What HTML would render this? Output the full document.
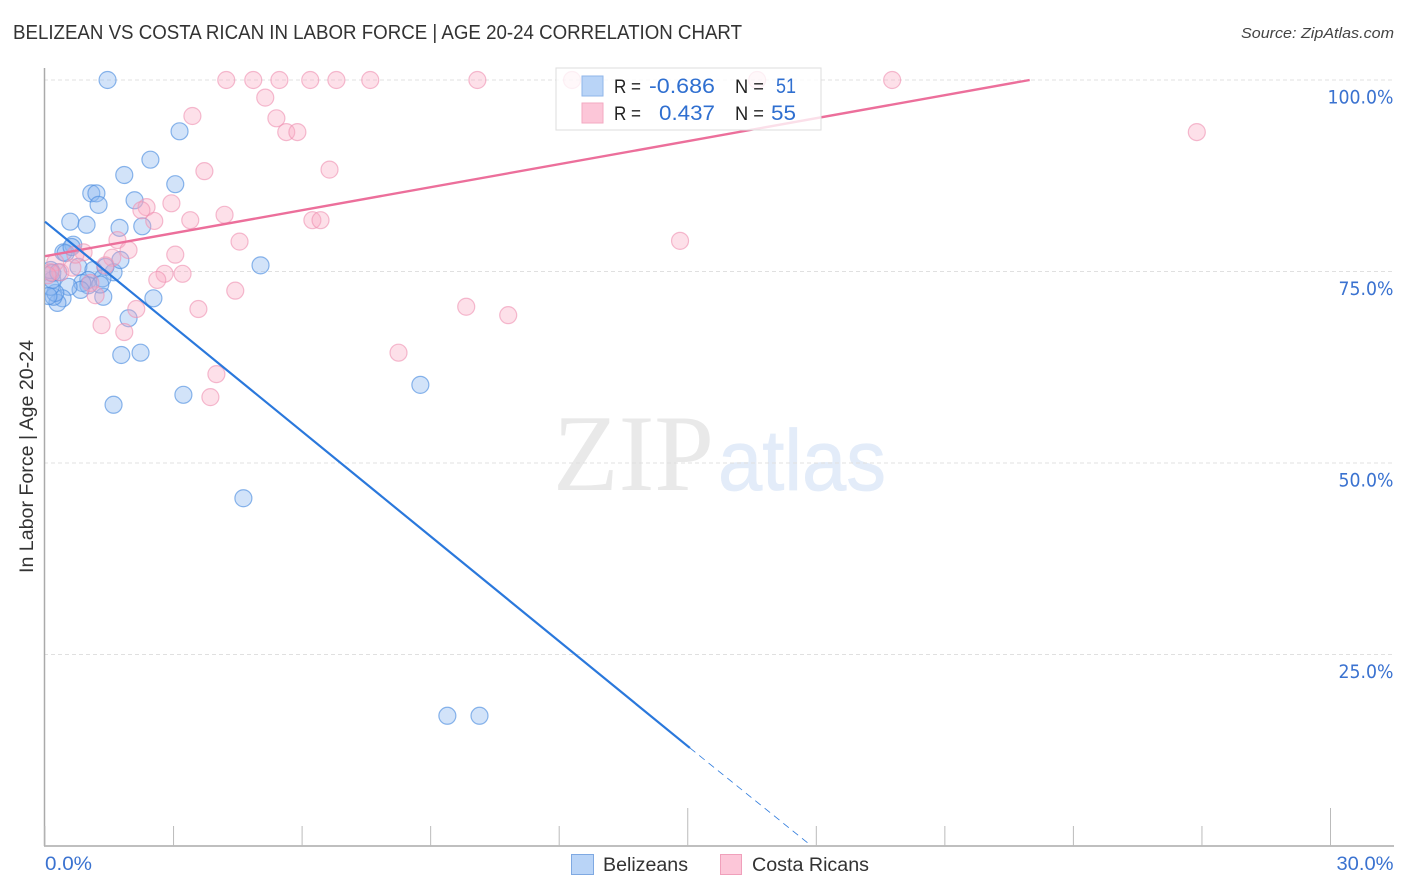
<!DOCTYPE html>
<html>
<head>
<meta charset="utf-8">
<title>Belizean vs Costa Rican In Labor Force Correlation Chart</title>
<style>
html,body{margin:0;padding:0;background:#fff;}
svg{display:block;font-family:"Liberation Sans",sans-serif;}
</style>
</head>
<body>
<svg id="chart" width="1406" height="892" viewBox="0 0 1406 892">
  <defs><clipPath id="plot-clip"><rect x="45" y="60" width="1350" height="786"/></clipPath></defs>
  <text x="553" y="490" font-family="'Liberation Serif',serif" font-size="109" fill="#e9e9e9" textLength="161" lengthAdjust="spacingAndGlyphs">ZIP</text>
  <text x="718" y="490" font-size="86" fill="#e3ecf9" stroke="#e3ecf9" stroke-width="0.8" textLength="168" lengthAdjust="spacingAndGlyphs">atlas</text>
  <g id="grid"></g>
  <g id="axes"></g>
  <g id="points" clip-path="url(#plot-clip)"></g>
  <g id="lines"></g>

  <text x="13" y="39" font-size="20" fill="#333" textLength="729" lengthAdjust="spacingAndGlyphs">BELIZEAN VS COSTA RICAN IN LABOR FORCE | AGE 20-24 CORRELATION CHART</text>
  <text x="1241" y="38" font-size="15" font-style="italic" fill="#444" textLength="153" lengthAdjust="spacingAndGlyphs">Source: ZipAtlas.com</text>
  <text transform="translate(33,456.5) rotate(-90)" text-anchor="middle" font-size="19" fill="#333" textLength="233" lengthAdjust="spacingAndGlyphs">In Labor Force | Age 20-24</text>

  <g>
    <rect x="556" y="68" width="265" height="62" fill="#fff" fill-opacity="0.78" stroke="#ddd" stroke-width="1"/>
    <rect x="582" y="76" width="21" height="20" fill="#b9d4f7" stroke="#8fb6ea"/>
    <rect x="582" y="103" width="21" height="20" fill="#fcc6d8" stroke="#f3a9c2"/>
    <text x="614" y="93" font-size="19" fill="#222" textLength="27" lengthAdjust="spacingAndGlyphs">R =</text>
    <text x="649" y="93" font-size="21" fill="#2f6fd0" textLength="66" lengthAdjust="spacingAndGlyphs">-0.686</text>
    <text x="735" y="93" font-size="19" fill="#222" textLength="29" lengthAdjust="spacingAndGlyphs">N =</text>
    <text x="776" y="93" font-size="21" fill="#2f6fd0" textLength="20" lengthAdjust="spacingAndGlyphs">51</text>
    <text x="614" y="120" font-size="19" fill="#222" textLength="27" lengthAdjust="spacingAndGlyphs">R =</text>
    <text x="659" y="120" font-size="21" fill="#2f6fd0" textLength="56" lengthAdjust="spacingAndGlyphs">0.437</text>
    <text x="735" y="120" font-size="19" fill="#222" textLength="29" lengthAdjust="spacingAndGlyphs">N =</text>
    <text x="771" y="120" font-size="21" fill="#2f6fd0" textLength="25" lengthAdjust="spacingAndGlyphs">55</text>
  </g>

  <g>
    <rect x="571.5" y="854.5" width="22" height="20" fill="#b9d4f7" stroke="#7fa9e2"/>
    <text x="603" y="871" font-size="19" fill="#333" textLength="85" lengthAdjust="spacingAndGlyphs">Belizeans</text>
  </g>
  <g>
    <rect x="720.5" y="854.5" width="21" height="20" fill="#fcc6d8" stroke="#f0a0bb"/>
    <text x="752" y="871" font-size="19" fill="#333" textLength="117" lengthAdjust="spacingAndGlyphs">Costa Ricans</text>
  </g>
</svg>
<script>
const yTicks = [100, 75, 50, 25];
const yTickLabels = ["100.0%", "75.0%", "50.0%", "25.0%"];
const xTicks = [0, 3, 6, 9, 12, 15, 18, 21, 24, 27, 30];
const xMajorTicks = [15, 30];
const xEndTicks = [0, 30];
const xEndLabels = ["0.0%", "30.0%"];

const belizeanX = [1.46,3.14,2.46,1.85,3.04,1.08,1.20,1.25,2.09,0.59,0.97,1.74,2.27,0.66,0.43,0.48,0.62,0.78,1.13,1.60,1.41,1.76,1.34,1.01,1.01,0.87,0.83,0.55,1.36,0.41,0.29,0.20,0.24,0.13,0.17,0.13,0.17,2.53,1.95,1.78,2.23,3.23,1.60,5.03,8.76,4.63,9.39,10.14,0.31,1.29,0.08];
const belizeanY = [100,93.3,89.6,87.6,86.4,85.2,85.2,83.7,84.3,81.5,81.1,80.7,80.9,78.5,77.5,77.4,78.2,75.6,75.2,74.9,75.6,76.5,74.1,73.9,73.2,73.5,72.6,73.0,71.7,71.5,70.9,71.7,72.2,73.0,73.9,75.2,74.8,71.5,68.9,64.1,64.4,58.9,57.6,75.8,60.2,45.4,17.0,17.0,74.9,73.3,71.8];
const costaRicanX = [4.23,4.86,5.47,6.19,6.80,7.59,10.09,12.30,16.62,19.77,3.44,5.14,5.40,5.63,5.89,26.88,3.72,6.64,2.37,2.25,2.95,2.55,3.39,4.19,6.24,6.43,4.54,14.82,1.69,1.95,3.04,0.90,1.57,2.79,2.62,3.21,1.41,3.58,4.44,2.13,1.32,1.85,9.83,10.81,8.25,4.00,3.86,1.18,0.24,0.36,0.13,0.64,1.06,0.71,0.06];
const costaRicanY = [100,100,100,100,100,100,100,100,100,100,95.3,97.7,95.0,93.2,93.2,93.2,88.1,88.3,83.4,83.0,83.9,81.6,81.7,82.4,81.7,81.7,78.9,79.0,79.1,77.8,77.2,77.5,76.8,74.7,73.9,74.7,75.8,70.1,72.5,70.1,68.0,67.1,70.4,69.3,64.4,61.6,58.6,71.9,76.2,74.9,74.9,75.5,73.5,77.2,74.5];

const belizeanTrendX = [0, 15.05];
const belizeanTrendY = [81.5, 12.8];
const belizeanDashX = [15.05, 17.8];
const belizeanDashY = [12.8, 0.4];
const costaTrendX = [0, 22.98];
const costaTrendY = [77.0, 100];

const NS = "http://www.w3.org/2000/svg";
const sx = v => 45 + v * 42.85;
const sy = v => 846 - v * 7.66;

function make(parent, tag, attrs) {
  const el = document.createElementNS(NS, tag);
  for (const k in attrs) el.setAttribute(k, attrs[k]);
  parent.appendChild(el);
  return el;
}

const grid = document.getElementById("grid");
const axes = document.getElementById("axes");
const pts = document.getElementById("points");
const lines = document.getElementById("lines");

yTicks.forEach((t, i) => {
  const g = make(grid, "line", {x1: 44, x2: 1394, y1: sy(t), y2: sy(t), stroke: "#e0e0e0", "stroke-width": 1, "stroke-dasharray": "4 3"});
  
  
  const l = make(axes, "text", {x: 1393.5, y: sy(t) + 23.4, "text-anchor": "end", "font-size": 18.5, fill: "#3a72d0", "font-family": "'DejaVu Sans',sans-serif"});
  l.textContent = yTickLabels[i];
  l.setAttribute('textLength', i === 0 ? 66 : 55);
  l.setAttribute('lengthAdjust', 'spacingAndGlyphs');
  
  
});

const yAxis = make(axes, "line", {x1: 44.5, x2: 44.5, y1: 68, y2: 846, stroke: "#aaa", "stroke-width": 1.5});


const xAxis = make(axes, "line", {x1: 44, x2: 1394, y1: 846, y2: 846, stroke: "#aaa", "stroke-width": 1.5});



xTicks.forEach(t => {
  const top = xMajorTicks.includes(t) ? 808 : 826;
  const tk = make(axes, "line", {x1: sx(t), x2: sx(t), y1: top, y2: 846, stroke: "#bbb", "stroke-width": 1});
  
  
});

xEndTicks.forEach((t, i) => {
  const l = make(axes, "text", {x: i === 0 ? sx(t) : sx(t) + 63, y: 870, "text-anchor": i === 0 ? "start" : "end", "font-size": 19, fill: "#3a72d0"});
  l.textContent = xEndLabels[i];
  l.setAttribute('textLength', i === 0 ? 47 : 57);
  l.setAttribute('lengthAdjust', 'spacingAndGlyphs');
  
  
});

belizeanX.forEach((x, i) => {
  const c = make(pts, "circle", {cx: sx(x), cy: sy(belizeanY[i]), r: 8.5, fill: "#8ab6ee", "fill-opacity": 0.38, stroke: "#4f8fe0", "stroke-opacity": 0.65, "stroke-width": 1.2});
  
  
});
costaRicanX.forEach((x, i) => {
  const c = make(pts, "circle", {cx: sx(x), cy: sy(costaRicanY[i]), r: 8.5, fill: "#f9a9c3", "fill-opacity": 0.36, stroke: "#ee8fb0", "stroke-opacity": 0.6, "stroke-width": 1.2});
  
  
});

const costaLine = make(lines, "line", {x1: sx(costaTrendX[0]), y1: sy(costaTrendY[0]), x2: sx(costaTrendX[1]), y2: sy(costaTrendY[1]), stroke: "#ec6f9b", "stroke-width": 2.4});


const blueLine = make(lines, "line", {x1: sx(belizeanTrendX[0]), y1: sy(belizeanTrendY[0]), x2: sx(belizeanTrendX[1]), y2: sy(belizeanTrendY[1]), stroke: "#2a78dc", "stroke-width": 2.2});


const blueDash = make(lines, "line", {x1: sx(belizeanDashX[0]), y1: sy(belizeanDashY[0]), x2: sx(belizeanDashX[1]), y2: sy(belizeanDashY[1]), stroke: "#2a78dc", "stroke-width": 0.8, "stroke-dasharray": "7 5"});


</script>
</body>
</html>
